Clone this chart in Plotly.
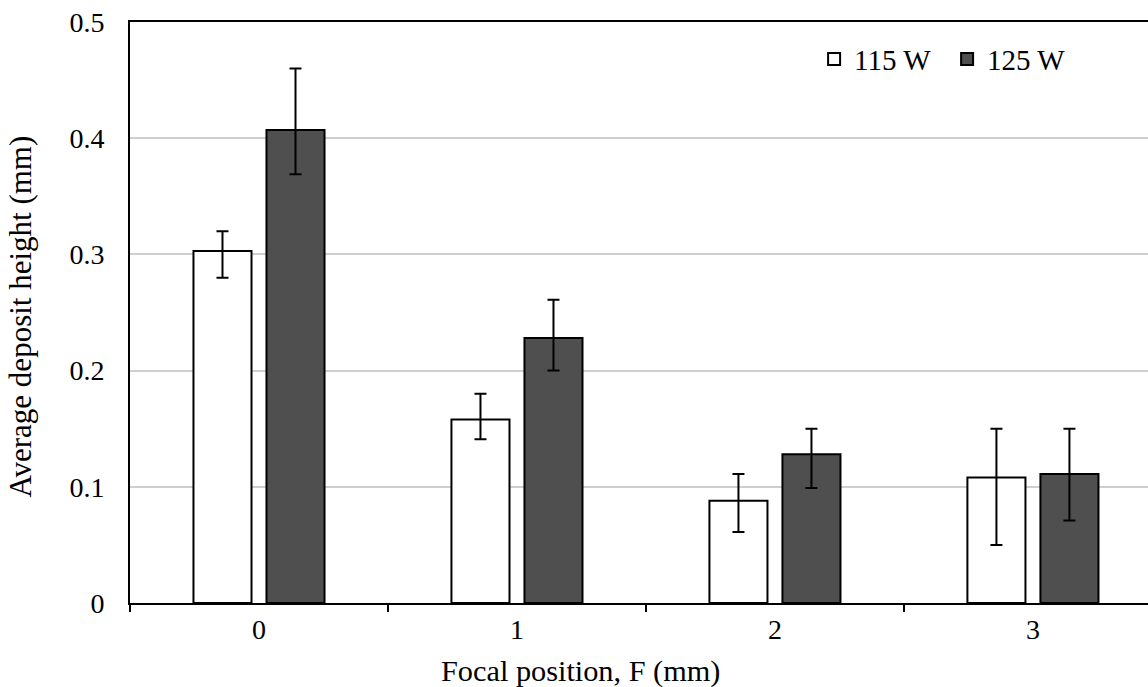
import plotly.graph_objects as go

categories = ["0", "1", "2", "3"]
h115 = [0.303, 0.158, 0.088, 0.108]
h115_hi = [0.320, 0.180, 0.111, 0.150]
h115_lo = [0.280, 0.141, 0.061, 0.050]
h125 = [0.407, 0.228, 0.128, 0.111]
h125_hi = [0.460, 0.261, 0.150, 0.150]
h125_lo = [0.369, 0.200, 0.099, 0.071]

font_fam = "Liberation Serif, Times New Roman, serif"

def err(v, hi, lo, ):
    return dict(type="data", symmetric=False,
                array=[h - a for a, h in zip(v, hi)],
                arrayminus=[a - l for a, l in zip(v, lo)],
                color="black", thickness=2, width=6)

fig = go.Figure()
fig.add_trace(go.Bar(x=categories, y=h115, name="115 W",
                     marker=dict(color="white", line=dict(color="black", width=2)),
                     error_y=err(h115, h115_hi, h115_lo)))
fig.add_trace(go.Bar(x=categories, y=h125, name="125 W",
                     marker=dict(color="#4f4f4f", line=dict(color="black", width=2)),
                     error_y=err(h125, h125_hi, h125_lo)))

fig.update_layout(
    width=1148, height=687,
    margin=dict(l=130, r=0, t=22, b=84),
    paper_bgcolor="white", plot_bgcolor="white",
    barmode="group", bargap=0.434, bargroupgap=0.205,
    font=dict(family=font_fam, size=28, color="black"),
    legend=dict(orientation="h", x=0.672, y=0.98, xanchor="left", yanchor="top",
                font=dict(size=29), bgcolor="rgba(0,0,0,0)", itemwidth=30,
                entrywidth=88),
    showlegend=True,
    annotations=[
        dict(text="Focal position, F (mm)", xref="paper", yref="paper",
             x=0.443, y=0, yshift=-68, xanchor="center", yanchor="middle",
             showarrow=False, font=dict(size=30.3)),
        dict(text="Average deposit height (mm)", xref="paper", yref="paper",
             x=0, xshift=-109, y=0.493, xanchor="center", yanchor="middle",
             textangle=-90, showarrow=False, font=dict(size=31)),
    ],
)
fig.update_xaxes(
    type="category", range=[-0.5, 3.446],
    showline=True, linecolor="black", linewidth=2, mirror=True,
    ticks="outside", tickson="boundaries", ticklen=7, tickwidth=2, tickcolor="black",
    showgrid=False, zeroline=False, ticklabelstandoff=0,
    tickfont=dict(size=28),
)
fig.update_yaxes(
    range=[0, 0.5], tickvals=[0, 0.1, 0.2, 0.3, 0.4, 0.5],
    ticktext=["0", "0.1", "0.2", "0.3", "0.4", "0.5"],
    showline=True, linecolor="black", linewidth=2,
    showgrid=True, gridcolor="#cfcfcf", gridwidth=2,
    zeroline=False, ticks="", ticklabelstandoff=18,
    tickfont=dict(size=28),
)

fig.write_html("out.html")
